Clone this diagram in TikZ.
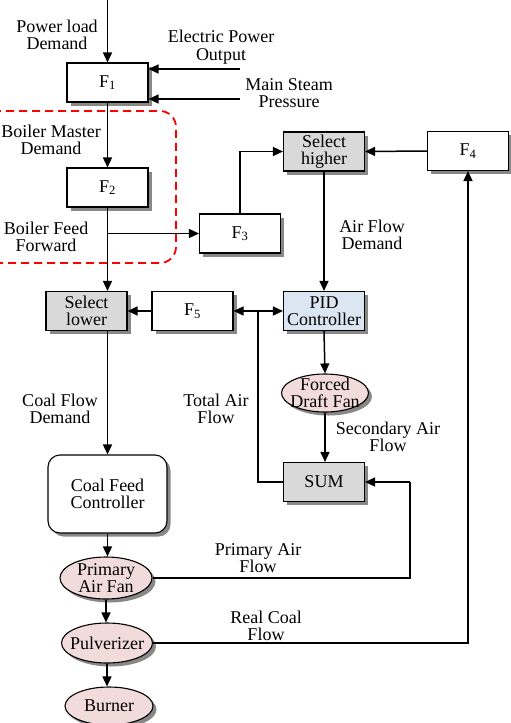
\documentclass[tikz,border=0pt]{standalone}
\usepackage{fontspec}
\setmainfont{Liberation Serif}
\usetikzlibrary{shapes.geometric,shadows,arrows.meta}
\definecolor{boxgray}{HTML}{D9D9D9}
\definecolor{pidblue}{HTML}{DCE6F2}
\definecolor{fanpink}{HTML}{F2DCDB}
\definecolor{shadowgray}{HTML}{888888}
\tikzset{
  shd/.style={drop shadow={shadow xshift=3.5pt,shadow yshift=-3.5pt,fill=shadowgray,opacity=1}},
  blk/.style={draw,line width=1.1pt,fill=white,minimum width=81pt,minimum height=39pt,inner sep=0pt,align=center,shd},
  grayblk/.style={blk,fill=boxgray},
  fan/.style={ellipse,draw,line width=1.1pt,fill=fanpink,inner sep=0pt,shd},
  lbl/.style={align=center,inner sep=0pt},
  arr/.style={line width=1.5pt,-{Triangle[length=10pt,width=9pt]}},
  ln/.style={line width=1.5pt},
}
\begin{document}
\begin{tikzpicture}[x=1pt,y=-1pt,font=\fontsize{18}{17.5}\selectfont]
\useasboundingbox (0,0) rectangle (511,723);
% red dashed region
\draw[red,line width=1.8pt,dash pattern=on 8pt off 5pt,rounded corners=16pt] (-20,111) -- (176,111) -- (176,263) -- (-20,263);
% blocks
\node[blk] (F1) at (107.5,82.5) {F\textsubscript{1}};
\node[blk] (F2) at (107.5,187.5) {F\textsubscript{2}};
\node[blk] (F3) at (240,233.5) {F\textsubscript{3}};
\node[grayblk] (SH) at (324,151.5) {Select\\higher};
\node[blk] (F4) at (468,151) {F\textsubscript{4}};
\node[grayblk] (SL) at (86.5,311) {Select\\lower};
\node[blk] (F5) at (192.5,311) {F\textsubscript{5}};
\node[blk,fill=pidblue] (PID) at (324,311) {PID\\Controller};
\node[grayblk] (SUM) at (324,482) {SUM};
\node[draw,line width=1.1pt,fill=white,rounded corners=12pt,minimum width=119pt,minimum height=78pt,inner sep=0pt,align=center,shd] (CFC) at (107.5,494) {Coal Feed\\Controller};
\node[fan,minimum width=87pt,minimum height=38pt] (FDF) at (325,393) {};
\node[lbl] (FDFt) at (FDF) {Forced\\Draft Fan};
\node[fan,minimum width=92pt,minimum height=42pt] (PAF) at (106,578) {};
\node[lbl] (PAFt) at (PAF) {Primary\\Air Fan};
\node[fan,minimum width=91pt,minimum height=40pt] (PUL) at (107,643) {};
\node[lbl] (PULt) at (PUL) {Pulverizer};
\node[fan,minimum width=88pt,minimum height=38pt] (BUR) at (109,706) {};
\node[lbl] (BURt) at (BUR) {Burner};
% labels
\node[lbl] (l1) at (57,35) {Power load\\Demand};
\node[lbl] (l2) at (221,47) {Electric Power\\Output};
\node[lbl] (l3) at (289,93) {Main Steam\\Pressure};
\node[lbl] (l4) at (51,140) {Boiler Master\\Demand};
\node[lbl] (l5) at (46,237) {Boiler Feed\\Forward};
\node[lbl] (l6) at (372,235) {Air Flow\\Demand};
\node[lbl] (l7) at (60,409) {Coal Flow\\Demand};
\node[lbl] (l8) at (216,409) {Total Air\\Flow};
\node[lbl] (l9) at (388,437) {Secondary Air\\Flow};
\node[lbl] (l10) at (258,558) {Primary Air\\Flow};
\node[lbl] (l11) at (266,626) {Real Coal\\Flow};
% coordinates
\coordinate (top) at (107.5,0);
\coordinate (epo) at (240,69);
\coordinate (msp) at (240,99);
\coordinate (br) at (107.5,233.5);
\coordinate (jn) at (258,311);
\coordinate (pa) at (410,482);
% connectors
\draw[arr] (top) -- (F1.north);
\draw[arr] (epo) -- (F1.east |- epo);
\draw[arr] (msp) -- (F1.east |- msp);
\draw[arr] (F1.south) -- (F2.north);
\draw[arr] (F2.south) -- (F2.south |- SL.north);
\draw[arr] (br) -- (F3.west);
\draw[arr] (F3.north) |- (SH.west);
\draw[arr] (F4.west) -- (SH.east);
\draw[arr] (SH.south) -- (PID.north);
\draw[arr] (F5.west) -- (SL.east);
\draw[ln] (SUM.west) -| (jn);
\draw[arr] (jn) -- (F5.east);
\draw[arr] (jn) -- (PID.west);
\draw[arr] (PID.south) -- (FDF.north);
\draw[arr] (FDF.south) -- (FDF.south |- SUM.north);
\draw[arr] (SL.south -| CFC.north) -- (CFC.north);
\draw[arr] (CFC.south) -- (CFC.south |- PAF.north);
\draw[arr] (PAF.south) -- (PAF.south |- PUL.north);
\draw[arr] (PUL.south) -- (PUL.south |- BUR.north);
\draw[ln] (PAF.east) -| (pa);
\draw[arr] (pa) -- (SUM.east);
\draw[arr] (PUL.east) -| (F4.south);
\end{tikzpicture}
\end{document}
